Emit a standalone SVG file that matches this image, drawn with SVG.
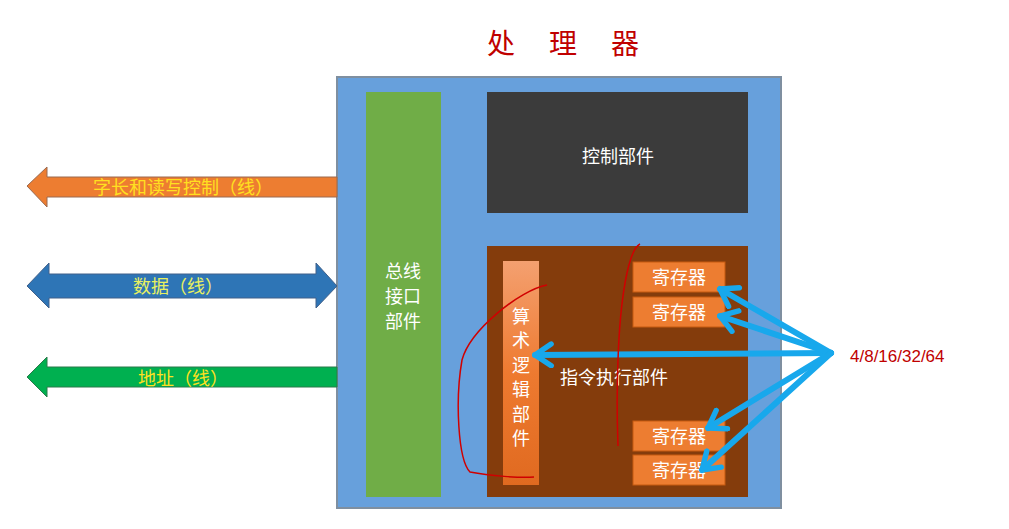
<svg xmlns="http://www.w3.org/2000/svg" width="1009" height="529" viewBox="0 0 1009 529">
<style>
.cn{font-family:"Noto Sans CJK SC","Noto Sans",sans-serif;}
.w{fill:#fff;font-size:18px;}
.reg rect{fill:#ed7d31;stroke:#c55a11;stroke-width:1}
.reg text{fill:#fff;font-size:18px;text-anchor:middle}
.ann{fill:none;stroke:#d00000;stroke-width:1.5}
.cy{stroke:#18a8ec;stroke-width:6;stroke-linecap:round;fill:none}
</style>
<defs>
<linearGradient id="og" x1="0" y1="0" x2="0" y2="1"><stop offset="0" stop-color="#f4a070"/><stop offset="0.5" stop-color="#ee7a30"/><stop offset="1" stop-color="#e06a20"/></linearGradient>
<marker id="ah" viewBox="0 0 20 20" refX="17" refY="10" markerWidth="4.5" markerHeight="4.5" orient="auto" markerUnits="strokeWidth">
<polyline points="5,2 17,10 5,18" fill="none" stroke="#18a8ec" stroke-width="4" stroke-linecap="round" stroke-linejoin="round"/>
</marker>
</defs>
<rect width="1009" height="529" fill="#fff"/>
<g class="cn" font-size="28" fill="#c00000" text-anchor="middle"><text x="501" y="54">处</text><text x="563" y="54">理</text><text x="625" y="54">器</text></g>
<g id="processor"><rect x="337" y="77" width="444" height="431" fill="#67a0dc" stroke="#7f8fa0" stroke-width="2"/></g>
<g id="bus-if"><rect x="366" y="92" width="75" height="405" fill="#70ad47"/>
<text class="cn w" x="403" text-anchor="middle"><tspan x="403" y="278">总线</tspan><tspan x="403" y="303">接口</tspan><tspan x="403" y="328">部件</tspan></text></g>
<g id="control"><rect x="487" y="92" width="261" height="121" fill="#3b3b3b"/><text class="cn w" x="618" y="163" text-anchor="middle">控制部件</text></g>
<g id="exec"><rect x="487" y="246" width="261" height="251" fill="#843c0c"/><text class="cn w" x="560" y="384">指令执行部件</text></g>
<g id="alu"><rect x="503" y="261" width="36" height="224" fill="url(#og)"/>
<text class="cn w" text-anchor="middle"><tspan x="521" y="323">算</tspan><tspan x="521" y="347">术</tspan><tspan x="521" y="372">逻</tspan><tspan x="521" y="396">辑</tspan><tspan x="521" y="421">部</tspan><tspan x="521" y="445">件</tspan></text></g>
<g id="reg1" class="reg cn"><rect x="633" y="262" width="92" height="30"/><text x="679" y="284">寄存器</text></g>
<g id="reg2" class="reg cn"><rect x="633" y="297" width="92" height="30"/><text x="679" y="319">寄存器</text></g>
<g id="reg3" class="reg cn"><rect x="633" y="421" width="92" height="30"/><text x="679" y="443">寄存器</text></g>
<g id="reg4" class="reg cn"><rect x="633" y="455" width="92" height="30"/><text x="679" y="477">寄存器</text></g>
<g id="bus-arrows">
<polygon points="27,186 47,167 47,177 337,177 337,197 47,197 47,207" fill="#ed7d31" stroke="#9a6a50" stroke-width="1"/>
<text class="cn" x="183" y="194" font-size="18" fill="#ffe020" text-anchor="middle">字长和读写控制（线）</text>
<polygon points="27,286 49,263 49,274 316,274 316,263 337,286 316,308 316,298 49,298 49,308" fill="#2e75b6" stroke="#40608a" stroke-width="1"/>
<text class="cn" x="178" y="293" font-size="18" fill="#e8f060" text-anchor="middle">数据（线）</text>
<polygon points="27,377 47,357 47,367 337,367 337,387 47,387 47,397" fill="#00b050" stroke="#2a7a4a" stroke-width="1"/>
<text class="cn" x="183" y="385" font-size="18" fill="#ffe020" text-anchor="middle">地址（线）</text>
</g>
<g id="connectors">
<line class="cy" x1="831" y1="353" x2="535" y2="355" marker-end="url(#ah)"/>
<line class="cy" x1="831" y1="353" x2="720" y2="289" marker-end="url(#ah)"/>
<line class="cy" x1="831" y1="353" x2="720" y2="316" marker-end="url(#ah)"/>
<line class="cy" x1="831" y1="353" x2="708" y2="428" marker-end="url(#ah)"/>
<line class="cy" x1="831" y1="353" x2="702" y2="470" marker-end="url(#ah)"/>
</g>
<text x="850" y="362" font-family="'Liberation Sans',sans-serif" font-size="17" fill="#c00000">4/8/16/32/64</text>
<g id="annotations">
<path class="ann" d="M640,244 C628,250 620,300 618,360 C616,410 618,440 618,446"/>
<path class="ann" d="M547,285 C520,290 470,330 462,360 C455,400 458,460 470,472 C490,476 520,478 534,477"/>
</g>
</svg>
